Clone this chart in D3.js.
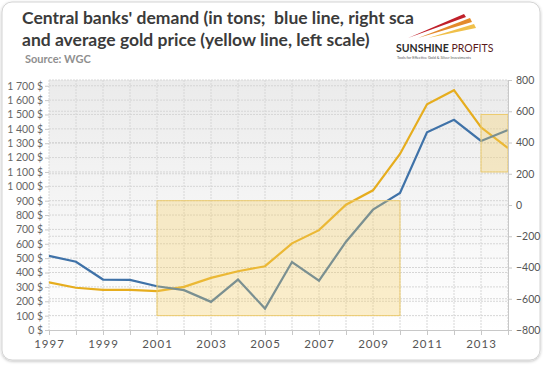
<!DOCTYPE html>
<html>
<head>
<meta charset="utf-8">
<script src="https://cdn.jsdelivr.net/npm/d3@7"></script>
<style>
  body { margin: 0; background: #fff; }
  text { font-family: Lato, "Open Sans", sans-serif; white-space: pre; }
</style>
</head>
<body>
<div id="chart"></div>
<script>
var svgWidth = 543;
var svgHeight = 365;

// data
var years = [1997, 1998, 1999, 2000, 2001, 2002, 2003, 2004, 2005, 2006, 2007, 2008, 2009, 2010, 2011, 2012, 2013, 2014];
var goldPrice = [331, 294, 279, 279, 271, 300, 363, 409, 444, 603, 695, 872, 972, 1225, 1571, 1669, 1411, 1266];
var cbDemand = [-326, -363, -477, -479, -520, -545, -620, -477, -663, -365, -484, -235, -30, 77, 465, 545, 410, 480];
var leftTicks = [0, 100, 200, 300, 400, 500, 600, 700, 800, 900, 1000, 1100, 1200, 1300, 1400, 1500, 1600, 1700];
var rightTicks = [-800, -600, -400, -200, 0, 200, 400, 600, 800];
var yearLabels = [1997, 1999, 2001, 2003, 2005, 2007, 2009, 2011, 2013];
// highlight boxes: [fromYear, toYear, lowPrice, highPrice]
var boxes = [[2001, 2010, 100, 900], [2013, 2014, 1100, 1500]];

var margin = { top: 80, right: 35, bottom: 35, left: 49 };
var width = svgWidth - margin.left - margin.right;
var height = svgHeight - margin.top - margin.bottom;

var svg = d3.select("#chart")
  .append("svg")
  .attr("width", svgWidth)
  .attr("height", svgHeight);

var defs = svg.append("defs");
var grad = defs.append("linearGradient")
  .attr("id", "bg").attr("x1", 0).attr("y1", 0).attr("x2", 0).attr("y2", 1);
grad.append("stop").attr("offset", "0%").attr("stop-color", "#ebebeb");
grad.append("stop").attr("offset", "100%").attr("stop-color", "#ffffff");

var shadow = defs.append("filter").attr("id", "shadow")
  .attr("x", "-5%").attr("y", "-5%").attr("width", "110%").attr("height", "110%");
shadow.append("feDropShadow").attr("dx", 0).attr("dy", 1).attr("stdDeviation", 1.5)
  .attr("flood-color", "#000").attr("flood-opacity", 0.25);

// card frame
svg.append("rect")
  .attr("x", 2).attr("y", 2)
  .attr("width", svgWidth - 5).attr("height", svgHeight - 7)
  .attr("rx", 10)
  .attr("fill", "#fff")
  .attr("stroke", "#d4d4d4")
  .attr("filter", "url(#shadow)");

// title
svg.append("text").attr("x", 22).attr("y", 24)
  .attr("font-size", 17.5).attr("font-weight", "bold").attr("fill", "#3b3b3b")
  .text("Central banks' demand (in tons;  blue line, right sca");
svg.append("text").attr("x", 22).attr("y", 46)
  .attr("font-size", 17.5).attr("font-weight", "bold").attr("fill", "#3b3b3b")
  .text("and average gold price (yellow line, left scale)");
svg.append("text").attr("x", 25).attr("y", 63)
  .attr("font-size", 11).attr("font-weight", "bold").attr("fill", "#8f8f8f")
  .text("Source: WGC");

// logo
var logo = svg.append("g").attr("transform", "translate(396, 8)");
logo.append("path").attr("d", "M12,30 L68,6 L70,9 Z").attr("fill", "#c0202a");
logo.append("path").attr("d", "M22,30 L74,10 L76,14 Z").attr("fill", "#e38a2b");
logo.append("path").attr("d", "M32,30 L78,16 L80,20 Z").attr("fill", "#f0c04a");
logo.append("text").attr("x", 0).attr("y", 44)
  .attr("font-size", 10.5).attr("font-weight", "bold").attr("fill", "#2a2a2a")
  .text("SUNSHINE")
  .append("tspan").attr("font-weight", "normal").attr("fill", "#5a1a1a").text(" PROFITS");
logo.append("text").attr("x", 1).attr("y", 51)
  .attr("font-size", 3.8).attr("fill", "#555")
  .text("Tools for Effective Gold & Silver Investments");

var chartGroup = svg.append("g")
  .attr("transform", `translate(${margin.left}, ${margin.top})`);

var xScale = d3.scaleLinear().domain([1997, 2014]).range([0, width]);
var yLeft = d3.scaleLinear().domain([0, 1740]).range([height, 0]);
var yRight = d3.scaleLinear().domain([-800, 800]).range([height, 0]);

chartGroup.append("rect")
  .attr("width", width).attr("height", height)
  .attr("fill", "url(#bg)");

// gridlines
chartGroup.append("g").selectAll("line")
  .data(leftTicks.slice(1))
  .enter().append("line")
  .attr("x1", 0).attr("x2", width)
  .attr("y1", d => yLeft(d)).attr("y2", d => yLeft(d))
  .attr("stroke", "#d6d6d6").attr("stroke-dasharray", "2,1");
chartGroup.append("g").selectAll("line")
  .data(rightTicks.slice(1))
  .enter().append("line")
  .attr("x1", 0).attr("x2", width)
  .attr("y1", d => yRight(d)).attr("y2", d => yRight(d))
  .attr("stroke", "#d6d6d6").attr("stroke-dasharray", "2,1");
chartGroup.append("g").selectAll("line")
  .data(years)
  .enter().append("line")
  .attr("x1", d => xScale(d)).attr("x2", d => xScale(d))
  .attr("y1", 0).attr("y2", height)
  .attr("stroke", "#d6d6d6").attr("stroke-dasharray", "2,1");

// lines
var goldLine = d3.line()
  .x((d, i) => xScale(years[i]))
  .y(d => yLeft(d));
var cbLine = d3.line()
  .x((d, i) => xScale(years[i]))
  .y(d => yRight(d));

chartGroup.append("path")
  .datum(goldPrice)
  .attr("d", goldLine)
  .attr("fill", "none").attr("stroke", "#e6ad1e").attr("stroke-width", 2.2);
chartGroup.append("path")
  .datum(cbDemand)
  .attr("d", cbLine)
  .attr("fill", "none").attr("stroke", "#3f72a8").attr("stroke-width", 2.2);

// highlight boxes (drawn over the lines)
chartGroup.append("g").selectAll("rect")
  .data(boxes)
  .enter().append("rect")
  .attr("x", d => xScale(d[0]))
  .attr("y", d => yLeft(d[3]))
  .attr("width", d => xScale(d[1]) - xScale(d[0]))
  .attr("height", d => yLeft(d[2]) - yLeft(d[3]))
  .attr("fill", "#f5cf63").attr("fill-opacity", 0.33)
  .attr("stroke", "#eccb6e").attr("stroke-width", 1);

// axes
var bottomAxis = d3.axisBottom(xScale)
  .tickValues(years)
  .tickSize(5)
  .tickFormat(d => yearLabels.indexOf(d) >= 0 ? d : "");
var leftAxis = d3.axisLeft(yLeft)
  .tickValues(leftTicks)
  .tickSize(4)
  .tickFormat(d => d3.format(",")(d).replace(",", " ") + " $");
var rightAxis = d3.axisRight(yRight)
  .tickValues(rightTicks)
  .tickSize(4);

var gx = chartGroup.append("g")
  .attr("transform", `translate(0, ${height})`)
  .call(bottomAxis);
var gl = chartGroup.append("g").call(leftAxis);
var gr = chartGroup.append("g")
  .attr("transform", `translate(${width}, 0)`)
  .call(rightAxis);

[gx, gl, gr].forEach(function(g) {
  g.select(".domain").attr("stroke", "#c8c8c8");
  g.selectAll(".tick line").attr("stroke", "#c8c8c8");
  g.selectAll(".tick text")
    .attr("fill", "#555")
    .attr("font-family", "Lato, 'Open Sans', sans-serif");
});
gl.select(".domain").remove();
gx.selectAll(".tick text").attr("font-size", 11.5).attr("dy", "0.85em").attr("letter-spacing", 1);
gl.selectAll(".tick text").attr("font-size", 10.5).attr("x", -6).attr("fill", "#666");
gr.selectAll(".tick text").attr("font-size", 10.5).attr("x", 8);
</script>
</body>
</html>
